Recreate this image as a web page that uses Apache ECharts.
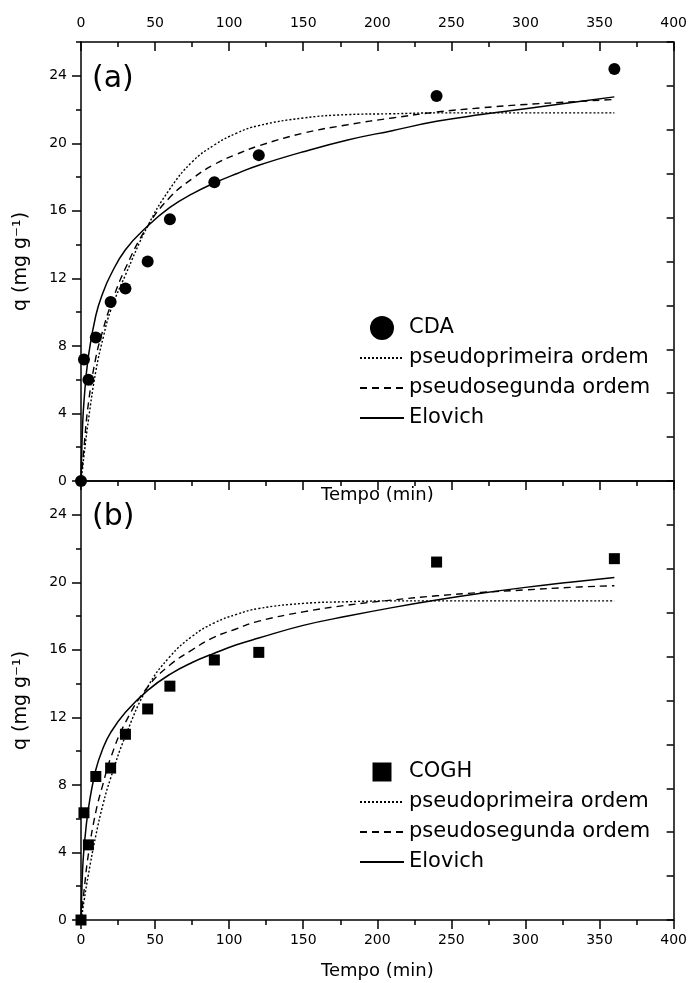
<!DOCTYPE html>
<html><head><meta charset="utf-8">
<script src="https://cdn.jsdelivr.net/npm/echarts@6/dist/echarts.min.js"></script>
<style>html,body{margin:0;padding:0;background:#fff}#c{width:690px;height:983px}</style>
</head><body><div id="c"></div>
<script>
// ---- data ----
const xTickLabels = [0, 50, 100, 150, 200, 250, 300, 350, 400];
const yTickLabels = [0, 4, 8, 12, 16, 20, 24];
const yMinorTicks = [2, 6, 10, 14, 18, 22, 26];

const timesExp = [0, 2, 5, 10, 20, 30, 45, 60, 90, 120, 240, 360];
const qCDA  = [0, 7.2, 6.0, 8.5, 10.6, 11.4, 13.0, 15.5, 17.7, 19.3, 22.8, 24.4];
const qCOGH = [0, 6.35, 4.45, 8.5, 9.0, 11.0, 12.5, 13.85, 15.4, 15.85, 21.2, 21.4];

const fitTimes = [0, 1, 2, 5, 10, 15, 20, 30, 45, 60, 75, 90, 105, 120, 150, 180, 210, 240, 270, 300, 330, 360];
const pfoCDA  = [0, 0.7, 1.5, 3.6, 6.5, 8.5, 10.1, 12.2, 15.1, 17.3, 18.9, 19.9, 20.6, 21.05, 21.5, 21.7, 21.75, 21.8, 21.8, 21.8, 21.8, 21.8];
const psoCDA  = [0, 1.0, 2.0, 4.6, 7.3, 9.0, 10.4, 12.6, 15.1, 16.8, 17.9, 18.75, 19.35, 19.85, 20.6, 21.1, 21.5, 21.85, 22.1, 22.3, 22.45, 22.6];
const eloCDA  = [0, 3.1, 4.7, 7.4, 9.8, 11.2, 12.2, 13.7, 15.1, 16.2, 17.0, 17.65, 18.2, 18.7, 19.5, 20.2, 20.75, 21.3, 21.7, 22.05, 22.4, 22.75];

const pfoCOGH = [0, 0.5, 1.1, 2.7, 5.0, 6.9, 8.4, 10.9, 13.8, 15.6, 16.8, 17.6, 18.1, 18.45, 18.75, 18.85, 18.9, 18.9, 18.9, 18.9, 18.9, 18.9];
const psoCOGH = [0, 0.85, 1.7, 3.9, 6.4, 8.1, 9.6, 11.7, 13.8, 15.1, 16.0, 16.75, 17.25, 17.7, 18.25, 18.65, 18.95, 19.2, 19.4, 19.55, 19.7, 19.8];
const eloCOGH = [0, 2.8, 4.2, 6.6, 8.9, 10.2, 11.1, 12.3, 13.6, 14.55, 15.25, 15.8, 16.3, 16.7, 17.45, 18.0, 18.5, 18.95, 19.35, 19.7, 20.0, 20.28];

const nameCDA = 'CDA', nameCOGH = 'COGH';
const namePFO = 'pseudoprimeira ordem', namePSO = 'pseudosegunda ordem', nameELO = 'Elovich';
const yName = 'q (mg g\u207B\u00B9)';
const xName = 'Tempo (min)';

// ---- chart ----
const FONT = 'DejaVu Sans';
const BLACK = '#000';
const lineSt = {color: BLACK, width: 1.5};
const pair = (xs, ys) => xs.map((x, i) => [x, ys[i]]);
const SQUARE = 'path://M0 0H10V10H0Z';

const grids = [
  {left: 81, top: 42, width: 594, height: 439},
  {left: 81, top: 481, width: 594, height: 439}
];

function xAxis(g, pos, opt) {
  return Object.assign({
    gridIndex: g, type: 'value', position: pos, min: 0, max: 400, interval: 50,
    axisLine: {show: true, onZero: false, lineStyle: lineSt},
    axisTick: {show: false, lineStyle: lineSt},
    minorTick: {show: false},
    axisLabel: {show: false},
    splitLine: {show: false}, minorSplitLine: {show: false}
  }, opt);
}
const labelSt = {show: true, fontSize: 14, color: BLACK, fontFamily: FONT};
const nameSt = {fontSize: 18, color: BLACK, fontFamily: FONT};
const yNameSt = {fontSize: 19, color: BLACK, fontFamily: FONT};

const xAxes = [
  xAxis(0, 'top', {axisTick: {show: true, inside: true, length: 9, lineStyle: lineSt},
    minorTick: {show: true, splitNumber: 2, length: 5, lineStyle: lineSt},
    axisLabel: Object.assign({margin: 12, customValues: xTickLabels}, labelSt)}),
  xAxis(0, 'bottom', {name: xName, nameLocation: 'middle', nameGap: 5, nameTextStyle: nameSt}),
  xAxis(1, 'top', {axisTick: {show: true, inside: true, length: 9, lineStyle: lineSt},
    minorTick: {show: true, splitNumber: 2, length: 5, lineStyle: lineSt}}),
  xAxis(1, 'bottom', {axisTick: {show: true, inside: false, length: 9, lineStyle: lineSt},
    minorTick: {show: true, splitNumber: 2, length: 5, lineStyle: lineSt},
    axisLabel: Object.assign({margin: 13, customValues: xTickLabels}, labelSt),
    name: xName, nameLocation: 'middle', nameGap: 42, nameTextStyle: nameSt})
];

function yAxesFor(g) {
  return [
    {gridIndex: g, type: 'value', position: 'left', min: 0, max: 26,
      axisLine: {show: true, onZero: false, lineStyle: lineSt},
      axisTick: {show: true, inside: false, length: 9, customValues: yTickLabels, lineStyle: lineSt},
      axisLabel: Object.assign({margin: 14, customValues: yTickLabels}, labelSt),
      splitLine: {show: false},
      name: yName, nameLocation: 'middle', nameGap: 50, nameTextStyle: yNameSt},
    {gridIndex: g, type: 'value', position: 'left', offset: 0, min: 0, max: 26,
      axisLine: {show: false},
      axisTick: {show: true, inside: false, length: 5, customValues: yMinorTicks, lineStyle: lineSt},
      axisLabel: {show: false}, splitLine: {show: false}},
    {gridIndex: g, type: 'value', position: 'right', min: 0, max: 26, interval: 2.6,
      axisLine: {show: true, onZero: false, lineStyle: lineSt},
      axisTick: {show: true, inside: true, length: 7, lineStyle: lineSt},
      axisLabel: {show: false}, splitLine: {show: false}}
  ];
}
const yAxes = yAxesFor(0).concat(yAxesFor(1));

function fitSeries(name, xi, yi, ys, dash) {
  return {name: name, type: 'line', xAxisIndex: xi, yAxisIndex: yi,
    data: pair(fitTimes, ys), symbol: 'none', showSymbol: false, smooth: 0.45,
    lineStyle: {color: BLACK, width: dash === 'solid' ? 1.5 : 1.4, type: dash},
    itemStyle: {color: BLACK}, z: 3, silent: true};
}

const series = [
  {name: nameCDA, type: 'scatter', xAxisIndex: 0, yAxisIndex: 0, data: pair(timesExp, qCDA),
    symbol: 'circle', symbolSize: 12, itemStyle: {color: BLACK, opacity: 1}, z: 5},
  fitSeries(namePFO, 0, 0, pfoCDA, [2, 2]),
  fitSeries(namePSO, 0, 0, psoCDA, [7, 5]),
  fitSeries(nameELO, 0, 0, eloCDA, 'solid'),
  {name: nameCOGH, type: 'scatter', xAxisIndex: 2, yAxisIndex: 3, data: pair(timesExp, qCOGH),
    symbol: 'rect', symbolSize: 11, itemStyle: {color: BLACK, opacity: 1}, z: 5},
  fitSeries(namePFO, 2, 3, pfoCOGH, [2, 2]),
  fitSeries(namePSO, 2, 3, psoCOGH, [7, 5]),
  fitSeries(nameELO, 2, 3, eloCOGH, 'solid')
];

const legendText = {fontSize: 21, lineHeight: 24, color: BLACK, fontFamily: FONT};
const hideSym = {opacity: 0};
const legends = [
  {left: 359, top: 316, orient: 'vertical', padding: 0, itemGap: 6, itemWidth: 44, itemHeight: 24,
    selectedMode: false, symbolKeepAspect: true, textStyle: legendText,
    data: [{name: nameCDA, itemStyle: {opacity: 1}},
      {name: namePFO, itemStyle: hideSym}, {name: namePSO, itemStyle: hideSym}, {name: nameELO, itemStyle: hideSym}]},
  {left: 359, top: 760, orient: 'vertical', padding: 0, itemGap: 6, itemWidth: 44, itemHeight: 19,
    selectedMode: false, symbolKeepAspect: true, textStyle: legendText,
    data: [{name: nameCOGH, icon: SQUARE, itemStyle: {opacity: 1}},
      {name: namePFO, itemStyle: hideSym}, {name: namePSO, itemStyle: hideSym}, {name: nameELO, itemStyle: hideSym}]}
];

const titles = [
  {text: '(a)', left: 92, top: 64, padding: 0, textStyle: {fontSize: 30, fontWeight: 'normal', color: BLACK, fontFamily: FONT}},
  {text: '(b)', left: 92, top: 502, padding: 0, textStyle: {fontSize: 30, fontWeight: 'normal', color: BLACK, fontFamily: FONT}}
];

const chart = echarts.init(document.getElementById('c'), null, {renderer: 'canvas'});
chart.setOption({
  animation: false,
  backgroundColor: '#fff',
  title: titles,
  legend: legends,
  grid: grids,
  xAxis: xAxes,
  yAxis: yAxes,
  series: series
});
</script></body></html>
